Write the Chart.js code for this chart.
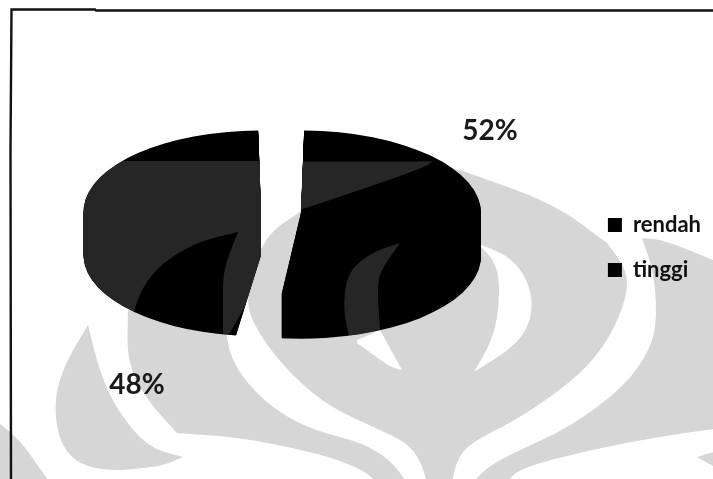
<!DOCTYPE html>
<html>
<head>
<meta charset="utf-8">
<title>rendah / tinggi</title>
<script src="https://cdn.jsdelivr.net/npm/chart.js@4/dist/chart.umd.min.js"></script>
<style>
  html, body { margin: 0; padding: 0; background: #fff; }
  #wrap { position: relative; width: 713px; height: 479px; overflow: hidden; isolation: isolate; background: #fff; }
  #wrap svg, #wrap canvas { position: absolute; left: 0; top: 0; }
  #shade { mix-blend-mode: lighten; }
</style>
</head>
<body>
<div id="wrap">
  <svg id="mark" width="713" height="479" viewBox="0 0 713 479">
    <g id="markGray" fill="#d6d6d6"></g>
    <g id="markWhite" fill="#fff"></g>
    <path fill="none" stroke="#111" stroke-width="2.4" d="M11 479L10.5 150L11.5 9.5L95 9.5L96 10.5L713 10.5"/>
  </svg>
  <canvas id="chart" width="713" height="479"></canvas>
  <!-- scan artefact: lighter patches where the watermark shows through the black -->
  <svg id="shade" width="713" height="479" viewBox="0 0 713 479">
    <g id="shadeDark" fill="#262626"></g>
  </svg>
</div>

<script>
// ---- data -----------------------------------------------------------------
const categories = ['rendah', 'tinggi'];
const values = [52, 48];
const sliceColors = ['#000000', '#000000'];

// ---- geometry of the fake 3D pie -------------------------------------------
const PIE_X = 281;
const PIE_Y = 212;
const SQUASH = 0.456;
const DEPTH = 44;

// ---- scanned watermark (background decoration, not data) -------------------
// A doubled point stays a sharp tip when the outline gets smoothed.
const grayShapes = [
  [[297,214],[297,214],[273,230],[260,250],[250,270],[247,307],[257,330],[273,353],[297,380],[330,407],[380,430],[407,443],[420,460],[427,482],[427,482],[452,482],[452,482],[457,460],[470,443],[520,418],[574,380],[604,347],[624,307],[629,273],[607,243],[607,243],[553,203],[460,170],[460,170],[420,165],[325,190],[325,190]],
  [[642,238],[642,238],[664,240],[713,260],[720,263],[720,263],[720,428],[720,428],[657,437],[590,450],[520,468],[507,482],[507,482],[473,482],[473,482],[490,465],[520,450],[570,427],[624,387],[650,350],[657,320],[654,273],[642,238]],
  [[128,310],[128,310],[226,320],[226,336],[233,363],[253,390],[280,413],[313,430],[363,443],[390,460],[407,482],[407,482],[377,482],[377,482],[363,470],[330,457],[300,450],[280,445],[233,437],[177,433],[177,433],[147,400],[127,363]],
  [[88,325],[88,325],[63,367],[53,407],[63,453],[97,472],[160,467],[183,457],[183,457],[147,447],[117,410],[100,373]],
  [[-5,420],[-5,420],[20,440],[43,473],[50,482],[50,482],[-5,482],[-5,482]],
  [[697,457],[697,457],[720,450],[720,450],[720,470],[720,470]],
];
const whiteShapes = [
  [[477,243],[477,243],[517,260],[535,300],[524,340],[474,372],[474,372],[494,337],[500,297],[497,263]],
  [[357,340],[357,340],[380,330],[380,330],[402,370],[402,370],[390,367],[357,343],[357,343]],
];
const darkShapes = [
  [[60,161],[60,161],[280,161],[280,161],[280,245],[280,245],[223,345],[223,345],[223,300],[223,270],[238,232],[238,232],[193,243],[153,270],[133,307],[130,350],[130,350],[60,350],[60,350]],
  [[290,161.5],[290,161.5],[433,161.5],[433,161.5],[423,168],[360,190],[300,210],[300,210],[290,220],[290,220]],
  [[400,243],[400,243],[370,253],[347,273],[343,310],[350,340],[350,340],[380,330],[380,330],[377,283],[383,267]],
];

function smoothPath(pts) {
  const mid = (a, b) => [(a[0] + b[0]) / 2, (a[1] + b[1]) / 2];
  const start = mid(pts[pts.length - 1], pts[0]);
  let d = `M${start[0]} ${start[1]}`;
  pts.forEach((p, i) => {
    const m = mid(p, pts[(i + 1) % pts.length]);
    d += `Q${p[0]} ${p[1]} ${m[0]} ${m[1]}`;
  });
  return `${d}Z`;
}

function fillGroup(id, shapes) {
  document.getElementById(id).innerHTML = shapes.map((s) => `<path d="${smoothPath(s)}"/>`).join('');
}
fillGroup('markGray', grayShapes);
fillGroup('markWhite', whiteShapes);
fillGroup('shadeDark', darkShapes);

// Squeezes the pie into an ellipse and stacks copies below it for the wall.
const pie3d = {
  id: 'pie3d',
  beforeDatasetDraw(chart, args) {
    const { ctx, chartArea } = chart;
    const cx = (chartArea.left + chartArea.right) / 2;
    const cy = (chartArea.top + chartArea.bottom) / 2;
    const place = (dy) => {
      ctx.translate(PIE_X, PIE_Y + dy);
      ctx.scale(1, SQUASH);
      ctx.translate(-cx, -cy);
    };
    for (let d = DEPTH; d > 0; d--) {
      ctx.save();
      place(d);
      args.meta.controller.draw();
      ctx.restore();
    }
    ctx.save();
    place(0);
  },
  afterDatasetDraw(chart) {
    chart.ctx.restore();
  },
};

// Percent labels beside the slices.
const percentLabels = {
  id: 'percentLabels',
  afterDraw(chart) {
    const { ctx } = chart;
    const spots = [[490, 131], [137, 385]];
    ctx.save();
    ctx.font = 'bold 28px Lato';
    ctx.fillStyle = '#1a1a1a';
    ctx.textAlign = 'center';
    ctx.textBaseline = 'middle';
    values.forEach((v, i) => ctx.fillText(`${v}%`, spots[i][0], spots[i][1]));
    ctx.restore();
  },
};

new Chart(document.getElementById('chart'), {
  type: 'pie',
  data: {
    labels: categories,
    datasets: [{
      data: values,
      backgroundColor: sliceColors,
      borderWidth: 0,
      offset: 80,
      radius: 160,
    }],
  },
  plugins: [pie3d, percentLabels],
  options: {
    responsive: false,
    animation: false,
    layout: { padding: { top: 16, right: 2 } },
    plugins: {
      tooltip: { enabled: false },
      legend: {
        position: 'right',
        labels: {
          color: '#111',
          font: { family: 'Lato', size: 22, weight: 'bold' },
          boxWidth: 14,
          boxHeight: 14,
          padding: 23,
        },
      },
    },
  },
});
</script>
</body>
</html>
